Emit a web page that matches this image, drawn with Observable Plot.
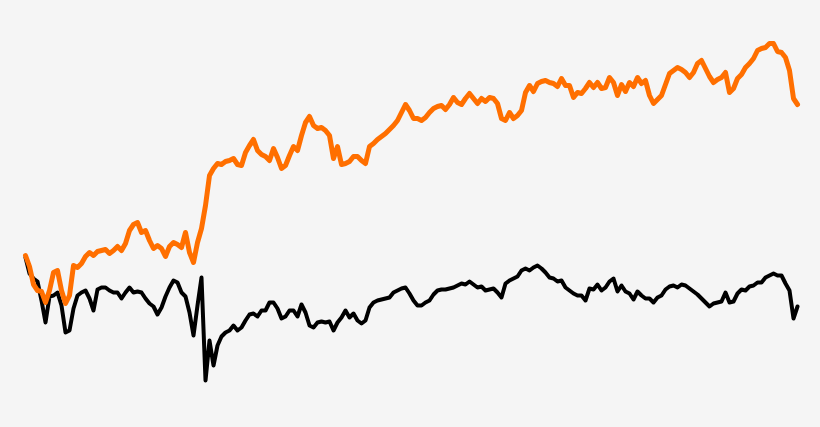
<!DOCTYPE html>
<html>
<head>
<meta charset="utf-8">
<script src="https://cdn.jsdelivr.net/npm/d3@7"></script>
<script src="https://cdn.jsdelivr.net/npm/@observablehq/plot@0.6"></script>
<style>
  html, body { margin: 0; padding: 0; background: #f5f5f5; }
  #chart { width: 820px; height: 427px; overflow: hidden; }
</style>
</head>
<body>
<div id="chart"></div>
<script>
// Cumulative performance (relative units), one value per period
const orangeSeries = [
  0, -11, -29, -35, -36, -47, -35, -17, -15, -35, -48, -40, -10, -12, -8, -1, 3, 0, 4, 5,
  6, 2, 5, 9, 5, 12, 25, 31, 33, 23, 25, 15, 7, 10, 7, -1, 9, 13, 11, 8,
  23, 3, -7, 13, 27, 50, 80, 87, 92, 91, 94, 95, 97, 91, 90, 103, 110, 116, 105, 101,
  99, 95, 107, 98, 87, 90, 100, 109, 105, 120, 133, 139, 130, 127, 128, 125, 120, 97, 109, 91,
  92, 94, 99, 99, 95, 92, 109, 112, 116, 119, 122, 126, 130, 135, 143, 151, 145, 137, 137, 135,
  138, 143, 147, 149, 150, 146, 151, 158, 153, 151, 157, 162, 157, 152, 157, 154, 158, 157, 152, 137,
  135, 143, 137, 140, 145, 163, 170, 164, 172, 174, 175, 173, 172, 169, 177, 170, 170, 158, 163, 162,
  167, 173, 168, 173, 167, 168, 178, 173, 160, 171, 164, 173, 169, 178, 172, 175, 160, 152, 156, 160,
  171, 182, 185, 188, 186, 183, 178, 183, 192, 195, 187, 179, 173, 176, 178, 183, 163, 167, 177, 181,
  188, 192, 197, 205, 207, 208, 212, 212, 204, 203, 198, 185, 157, 151
];
const blackSeries = [
  -2, -18, -23, -26, -45, -67, -41, -40, -37, -50, -77, -75, -53, -40, -37, -35, -43, -55, -34, -32,
  -32, -35, -37, -37, -43, -37, -32, -37, -36, -37, -43, -48, -51, -59, -52, -41, -32, -25, -27, -37,
  -41, -57, -80, -50, -22, -125, -85, -110, -90, -81, -77, -75, -70, -75, -72, -65, -59, -58, -61, -55,
  -55, -47, -47, -53, -63, -61, -55, -55, -61, -49, -57, -70, -72, -67, -66, -67, -66, -75, -67, -62,
  -55, -62, -58, -65, -68, -65, -52, -47, -45, -44, -43, -42, -37, -35, -33, -32, -38, -45, -50, -50,
  -47, -45, -39, -35, -34, -34, -33, -32, -30, -28, -29, -26, -29, -32, -31, -35, -34, -33, -37, -42,
  -28, -25, -23, -21, -15, -13, -15, -12, -10, -13, -17, -22, -23, -26, -25, -32, -35, -38, -40, -40,
  -45, -33, -34, -29, -35, -32, -26, -23, -36, -30, -36, -38, -44, -36, -40, -43, -43, -47, -42, -40,
  -34, -31, -30, -32, -29, -30, -33, -36, -39, -43, -47, -51, -48, -47, -46, -37, -47, -46, -38, -34,
  -35, -31, -30, -27, -27, -22, -20, -18, -20, -20, -28, -35, -63, -51
];
const periods = d3.range(orangeSeries.length);

const rows = periods.flatMap(i => [
  {t: i, v: blackSeries[i], s: "black"},
  {t: i, v: orangeSeries[i], s: "orange"}
]);

const chart = Plot.plot({
  width: 820,
  height: 427,
  marginTop: 0,
  marginBottom: 0,
  marginLeft: 25,
  marginRight: 23,
  style: {background: "#f5f5f5"},
  x: {domain: [0, periods.length - 1], axis: null},
  y: {domain: [-172, 255], axis: null},
  marks: [
    Plot.line(rows.filter(d => d.s === "black"), {x: "t", y: "v", stroke: "#000000", strokeWidth: 4, strokeLinejoin: "round"}),
    Plot.line(rows.filter(d => d.s === "orange"), {x: "t", y: "v", stroke: "#ff6f00", strokeWidth: 5, strokeLinejoin: "round"})
  ]
});
document.getElementById("chart").appendChild(chart);
</script>
</body>
</html>
